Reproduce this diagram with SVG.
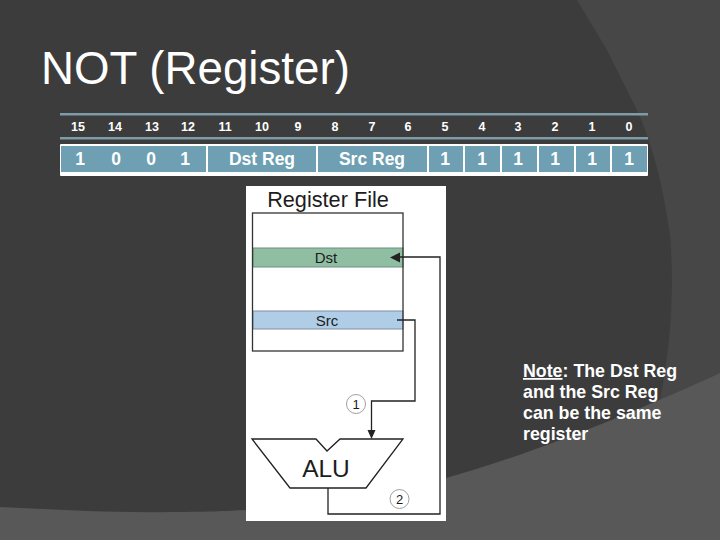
<svg xmlns="http://www.w3.org/2000/svg" width="720" height="540" viewBox="0 0 720 540">
<style>
.t{font-family:"Liberation Sans",Arial,sans-serif;fill:#fff}
.h{font-size:12.500px;font-weight:bold;text-anchor:middle}
.v{font-size:17.500px;font-weight:bold;text-anchor:middle}
.k{font-family:"Liberation Sans",Arial,sans-serif;fill:#1c1c1c;text-anchor:middle}
.l{fill:none;stroke:#222;stroke-width:1.3}
.n{fill:#fff;stroke:#777;stroke-width:.7}
</style>
<rect width="720" height="540" fill="#3c3c3c"/>
<path d="M577 0L607 50L637 110C652 142 664 190 670 235C674 285 672 340 660 400L720 400V0Z" fill="#474747"/>
<path d="M0 507C60 510 120 513 170 512C200 512 230 511 246 510L446 478C530 455 640 410 720 373V540H0Z" fill="#585858"/>
<text class="t" x="41" y="84" font-size="45.700">NOT (Register)</text>
<g id="bit-table">
<rect x="60" y="113" width="588" height="2.500" fill="#7d9ca8"/>
<rect x="60" y="137" width="588" height="2.500" fill="#7d9ca8"/>
<rect x="60" y="144" width="588" height="32" fill="#fff" rx="1"/>
<g fill="#6e9fb2">
<rect x="61" y="146" width="145" height="26"/>
<rect x="208" y="146" width="108" height="26"/>
<rect x="318" y="146" width="109" height="26"/>
<rect x="429" y="146" width="34" height="26"/>
<rect x="465" y="146" width="35" height="26"/>
<rect x="502" y="146" width="35" height="26"/>
<rect x="539" y="146" width="35" height="26"/>
<rect x="576" y="146" width="34" height="26"/>
<rect x="612" y="146" width="35" height="26"/>
</g>
<g class="t h">
<text x="78" y="131">15</text><text x="115" y="131">14</text><text x="152" y="131">13</text><text x="188" y="131">12</text><text x="225" y="131">11</text><text x="262" y="131">10</text><text x="298" y="131">9</text><text x="335" y="131">8</text><text x="372" y="131">7</text><text x="408" y="131">6</text><text x="445" y="131">5</text><text x="482" y="131">4</text><text x="518" y="131">3</text><text x="555" y="131">2</text><text x="592" y="131">1</text><text x="629" y="131">0</text>
</g>
<g class="t v">
<text x="80" y="165">1</text><text x="116" y="165">0</text><text x="151" y="165">0</text><text x="185" y="165">1</text><text x="262" y="165">Dst Reg</text><text x="372" y="165">Src Reg</text><text x="445" y="165">1</text><text x="482" y="165">1</text><text x="518" y="165">1</text><text x="555" y="165">1</text><text x="592" y="165">1</text><text x="629" y="165">1</text>
</g>
</g>
<g id="register-file">
<rect x="246" y="186" width="200" height="335" fill="#fff"/>
<text class="k" x="328" y="207" font-size="21.700">Register File</text>
<rect x="253" y="248" width="150" height="19" fill="#8fbea3" stroke="#6f8f7d"/>
<rect x="253" y="311" width="150" height="18" fill="#b0cde8" stroke="#7f8f9f"/>
<rect x="252.500" y="213" width="150.500" height="138" fill="none" stroke="#333" stroke-width="1.300"/>
<text class="k" x="326" y="263" font-size="15">Dst</text>
<text class="k" x="327" y="326" font-size="15">Src</text>
</g>
<g id="alu">
<path class="l" d="M252 439H316L327 451L340 439H403L366 488H290Z" fill="#fff"/>
<text class="k" x="326" y="477" font-size="24.500">ALU</text>
</g>
<g id="step-1"><circle class="n" cx="356" cy="404" r="9.500"/><text class="k" x="356" y="409" font-size="13">1</text></g>
<g id="step-2"><circle class="n" cx="399.500" cy="499" r="9.500"/><text class="k" x="399.500" y="504" font-size="13">2</text></g>
<g id="connectors">
<path class="l" d="M328 488V514H440V257H398"/>
<path d="M390 257.500L400 252.500V262.500Z" fill="#222"/>
<path class="l" d="M397 320H415V401H371.500V432"/>
<path d="M371.500 439L367.500 430H375.500Z" fill="#222"/>
</g>
<g id="note" class="t" font-size="17.800" font-weight="bold">
<text x="523" y="377"><tspan text-decoration="underline">Note</tspan>: The Dst Reg</text>
<text x="523" y="398">and the Src Reg</text>
<text x="523" y="419">can be the same</text>
<text x="523" y="440">register</text>
</g>
</svg>
